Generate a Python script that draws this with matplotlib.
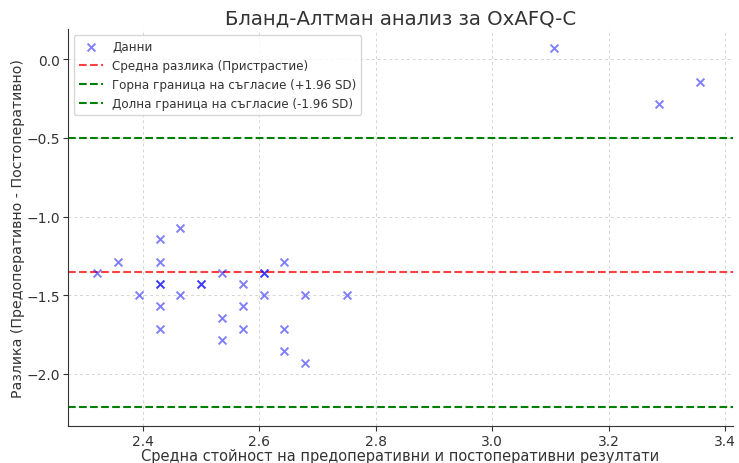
import matplotlib
matplotlib.use("Agg")
import matplotlib.pyplot as plt
import numpy as np

# Bland-Altman data (means, differences)
means = [2.321, 2.357, 2.393, 2.429, 2.429, 2.429, 2.429, 2.429, 2.429,
         2.464, 2.464, 2.500, 2.500, 2.536, 2.536, 2.536,
         2.571, 2.571, 2.571, 2.607, 2.607, 2.607,
         2.643, 2.643, 2.643, 2.679, 2.679, 2.750,
         3.107, 3.286, 3.357]
diffs = [-1.357, -1.286, -1.500, -1.143, -1.286, -1.429, -1.429, -1.571, -1.714,
         -1.071, -1.500, -1.429, -1.429, -1.357, -1.643, -1.786,
         -1.429, -1.571, -1.714, -1.357, -1.357, -1.500,
         -1.286, -1.714, -1.857, -1.500, -1.929, -1.500,
         0.071, -0.286, -0.143]

mean_diff = -1.355
upper_loa = -0.50
lower_loa = -2.21

text_col = '#333333'

fig = plt.figure(figsize=(7.39, 4.64), dpi=100)
ax = fig.add_subplot(111)
fig.subplots_adjust(left=0.092, right=0.992, top=0.935, bottom=0.080)

ax.scatter(means, diffs, marker='x', color='blue', alpha=0.5, s=32, linewidths=1.4, label='Данни', zorder=3)
ax.axhline(mean_diff, color='red', linestyle='--', alpha=0.75, linewidth=1.5, label='Средна разлика (Пристрастие)')
ax.axhline(upper_loa, color='green', linestyle='--', linewidth=1.5, label='Горна граница на съгласие (+1.96 SD)')
ax.axhline(lower_loa, color='green', linestyle='--', linewidth=1.5, label='Долна граница на съгласие (-1.96 SD)')

ax.set_xlim(2.271, 3.414)
ax.set_ylim(-2.33, 0.19)
ax.set_xticks([2.4, 2.6, 2.8, 3.0, 3.2, 3.4])
ax.set_yticks([0.0, -0.5, -1.0, -1.5, -2.0])

ax.set_title('Бланд-Алтман анализ за OxAFQ-C', fontsize=14.2, color=text_col, pad=4)
ax.set_xlabel('Средна стойност на предоперативни и постоперативни резултати', fontsize=10.5, color=text_col, labelpad=0)
ax.set_ylabel('Разлика (Предоперативно - Постоперативно)', fontsize=10.2, color=text_col, labelpad=1)

ax.grid(True, linestyle=(0, (3, 3)), color='#d5d5d5', linewidth=0.7)
ax.set_axisbelow(True)
for s in ['top', 'right']:
    ax.spines[s].set_visible(False)
for s in ['left', 'bottom']:
    ax.spines[s].set_color('#333333')
ax.tick_params(colors=text_col, labelsize=10, pad=2)

leg = ax.legend(loc='upper left', fontsize=8.6, framealpha=0.8)
for t in leg.get_texts():
    t.set_color(text_col)

fig.savefig('out.png', dpi=100)
